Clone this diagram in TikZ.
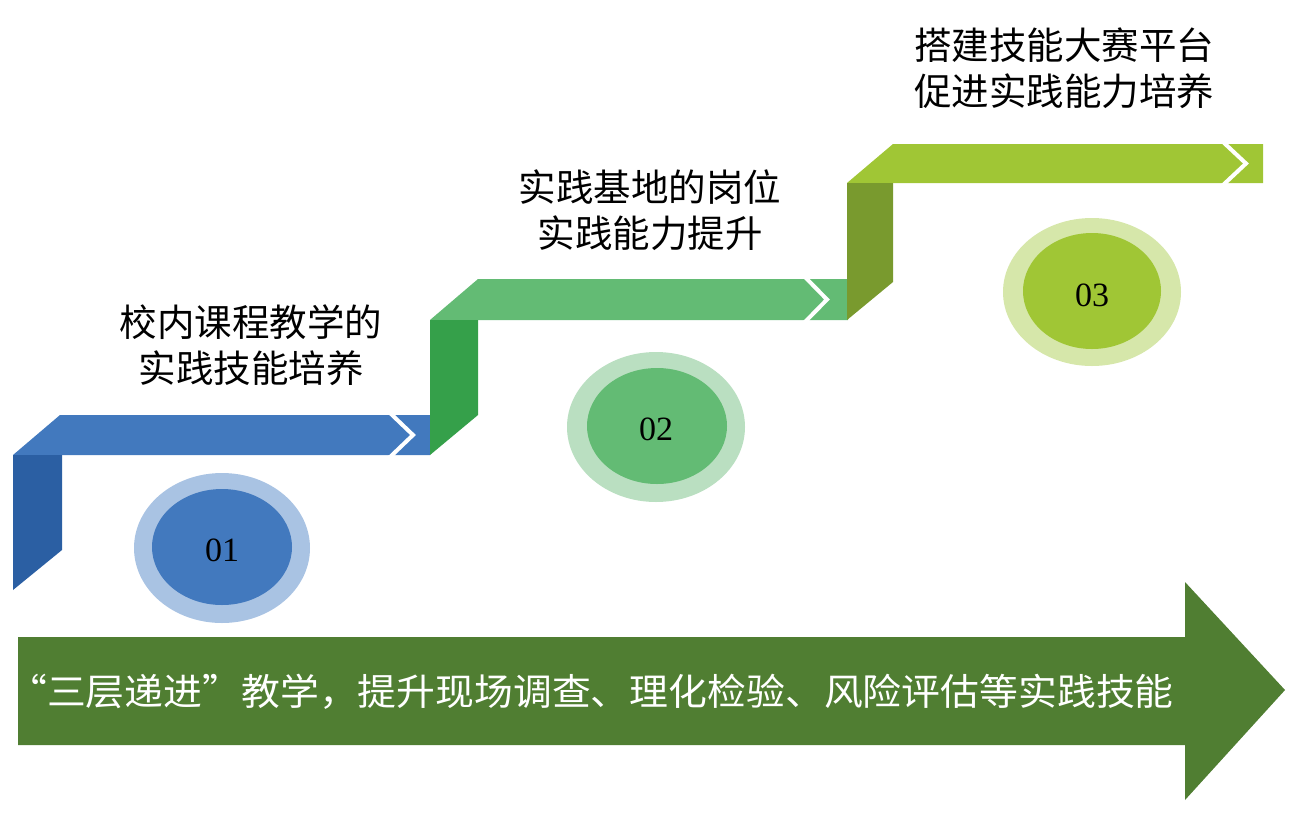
\documentclass[tikz,border=0pt]{standalone}
\usepackage{fontspec}
\setmainfont{Liberation Serif}
\newfontfamily\cjk{Noto Sans CJK SC}
\definecolor{blueH}{HTML}{4279BE}
\definecolor{blueV}{HTML}{2B5FA3}
\definecolor{blueL}{HTML}{A9C3E3}
\definecolor{greenH}{HTML}{63BB74}
\definecolor{greenV}{HTML}{35A04A}
\definecolor{greenL}{HTML}{BADFC1}
\definecolor{oliveH}{HTML}{A0C635}
\definecolor{oliveV}{HTML}{799A2E}
\definecolor{oliveL}{HTML}{D6E7AA}
\definecolor{bigarrow}{HTML}{507E32}
\begin{document}
\begin{tikzpicture}[x=1pt,y=-1pt,
  chev/.style={white,line width=4pt,miter limit=10},
  label/.style={font=\cjk\fontsize{37.5}{46}\selectfont,align=center,text=black,inner sep=0pt},
  num/.style={font=\fontsize{34}{34}\selectfont,text=black,inner sep=0pt}]
\useasboundingbox (0,0) rectangle (1299,812);
% step 1 (blue)
\fill[blueH] (60,415) -- (430,415) -- (430,455) -- (13,455) -- cycle;
\fill[blueV] (13,455) -- (62,455) -- (62,550) -- (13,590) -- cycle;
\draw[chev] (389,412) -- (413,435) -- (389,458);
% step 2 (green)
\fill[greenH] (478,279) -- (848,279) -- (848,320) -- (430,320) -- cycle;
\fill[greenV] (430,320) -- (478,320) -- (478,415) -- (430,455) -- cycle;
\draw[chev] (804,276) -- (827,299.5) -- (804,323);
% step 3 (olive)
\fill[oliveH] (893,144) -- (1263,144) -- (1263,183) -- (847,183) -- cycle;
\fill[oliveV] (847,183) -- (893,183) -- (893,282) -- (847,320) -- cycle;
\draw[chev] (1222,141) -- (1246,163.5) -- (1222,186);
% circles
\fill[blueL] (222,548) ellipse [x radius=88, y radius=75];
\fill[blueH] (222,547) ellipse [x radius=70, y radius=58];
\node[num] (n1) at (222,550) {01};
\fill[greenL] (656,427) ellipse [x radius=89, y radius=75];
\fill[greenH] (657,426) ellipse [x radius=70, y radius=58];
\node[num] (n2) at (656,429) {02};
\fill[oliveL] (1092,292) ellipse [x radius=89, y radius=74];
\fill[oliveH] (1092,291) ellipse [x radius=69, y radius=58];
\node[num] (n3) at (1092,295) {03};
% labels
\node[label] (l1) at (251,345) {校内课程教学的\\实践技能培养};
\node[label] (l2) at (650,210) {实践基地的岗位\\实践能力提升};
\node[label] (l3) at (1064,68) {搭建技能大赛平台\\促进实践能力培养};
% big arrow
\fill[bigarrow] (18,637) -- (1185,637) -- (1185,582) -- (1285,690) -- (1185,800) -- (1185,745) -- (18,745) -- cycle;
\node[font=\cjk\fontsize{37}{40}\selectfont,text=white,inner sep=0pt] (bt) at (591,692) {\scalebox{1.05}[1]{“三层递进”教学，提升现场调查、理化检验、风险评估等实践技能}};
\end{tikzpicture}
\end{document}
